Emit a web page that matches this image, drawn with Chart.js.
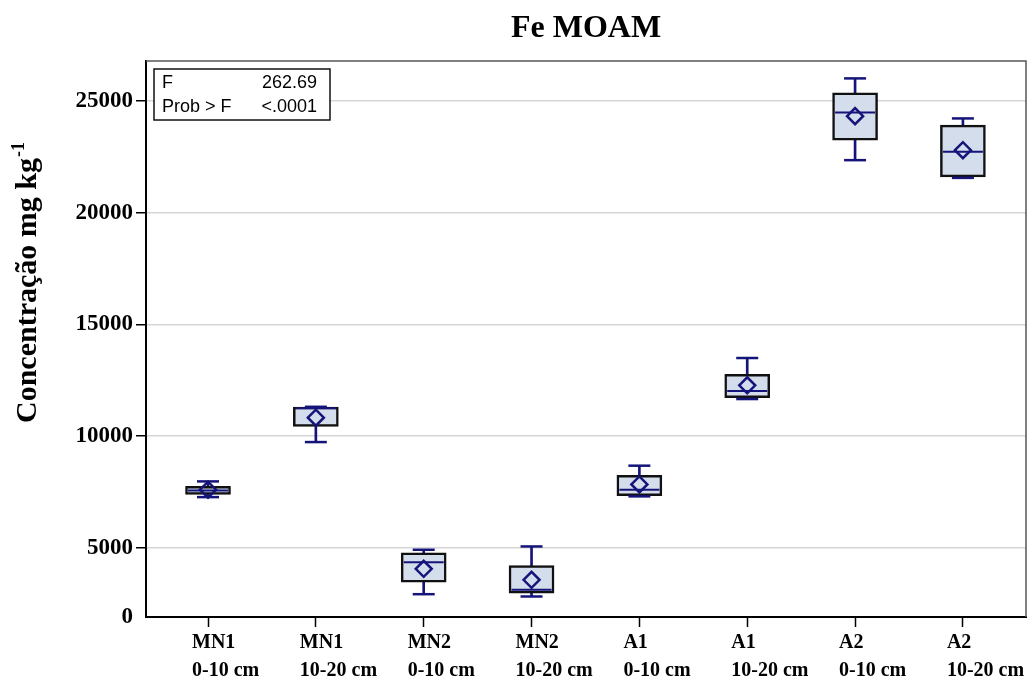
<!DOCTYPE html>
<html>
<head>
<meta charset="utf-8">
<script src="https://cdn.jsdelivr.net/npm/chart.js@4/dist/chart.umd.min.js"></script>
<style>
  html, body { margin: 0; padding: 0; background: #fff; overflow: hidden; }
  #wrap { width: 1033px; height: 684px; overflow: hidden; }
  canvas { display: block; }
</style>
</head>
<body>
<div id="wrap"><canvas id="c" width="1033" height="684"></canvas></div>
<script>
// ---- data ----
const titleText = 'Fe MOAM';
const yTitle = 'Concentração mg kg';
const yTitleSup = '-1';
const sites = ['MN1', 'MN1', 'MN2', 'MN2', 'A1', 'A1', 'A2', 'A2'];
const depths = ['0-10 cm', '10-20 cm', '0-10 cm', '10-20 cm', '0-10 cm', '10-20 cm', '0-10 cm', '10-20 cm'];
const whiskerMin = [7267, 9731, 2921, 2818, 7300, 11657, 22351, 21558];
const q1 =         [7388, 10434, 3459, 2966, 7330, 11720, 23247, 21603];
const median =     [7567, 11241, 4355, 3118, 7598, 12016, 24488, 22723];
const q3 =         [7746, 11299, 4776, 4207, 8239, 12764, 25366, 23919];
const whiskerMax = [7970, 11310, 4910, 5058, 8674, 13494, 26011, 24219];
const means =      [7598, 10824, 4059, 3566, 7836, 12271, 24322, 22799];
const yTickValues = [5000, 10000, 15000, 20000, 25000];
const yMin = 1900, yMax = 26790;
const statsRows = [['F', '262.69'], ['Prob > F', '<.0001']];

const navy = '#14147a';
const boxFill = '#d4ddeb';
const pos = sites.map((_, i) => i + 1);

const serif = '"Liberation Serif", "Times New Roman", serif';
const sans = '"Liberation Sans", Arial, sans-serif';

const decorPlugin = {
  id: 'decor',
  afterDraw(chart) {
    const ctx = chart.ctx;
    const ca = chart.chartArea;
    const xs = chart.scales.x;
    ctx.save();
    ctx.strokeStyle = '#555';
    ctx.lineWidth = 1.5;
    ctx.beginPath();
    ctx.moveTo(ca.left, ca.top);
    ctx.lineTo(ca.right, ca.top);
    ctx.lineTo(ca.right, ca.bottom);
    ctx.stroke();

    ctx.fillStyle = '#000';
    ctx.font = 'bold 32px ' + serif;
    ctx.textAlign = 'center';
    ctx.textBaseline = 'alphabetic';
    ctx.fillText(titleText, (ca.left + ca.right) / 2, 37);

    ctx.save();
    ctx.translate(36, 283);
    ctx.rotate(-Math.PI / 2);
    ctx.font = 'bold 30px ' + serif;
    const w1 = ctx.measureText(yTitle).width;
    ctx.font = 'bold 18px ' + serif;
    const w2 = ctx.measureText(yTitleSup).width;
    const start = -(w1 + w2) / 2;
    ctx.textAlign = 'left';
    ctx.font = 'bold 30px ' + serif;
    ctx.fillText(yTitle, start, 0);
    ctx.font = 'bold 18px ' + serif;
    ctx.fillText(yTitleSup, start + w1 + 1, -12);
    ctx.restore();

    ctx.font = 'bold 20px ' + serif;
    ctx.textAlign = 'left';
    pos.forEach((p, i) => {
      const x = xs.getPixelForValue(p) - 16;
      ctx.fillText(sites[i], x, 648);
      ctx.fillText(depths[i], x, 676);
    });

    const bx = ca.left + 8, by = ca.top + 8, bw = 176, bh = 51;
    ctx.fillStyle = '#fff';
    ctx.fillRect(bx, by, bw, bh);
    ctx.strokeStyle = '#111';
    ctx.lineWidth = 1.5;
    ctx.strokeRect(bx, by, bw, bh);
    ctx.fillStyle = '#000';
    ctx.font = '18px ' + sans;
    statsRows.forEach((r, i) => {
      const yb = by + 19 + i * 24;
      ctx.textAlign = 'left';
      ctx.fillText(r[0], bx + 8, yb);
      ctx.textAlign = 'right';
      ctx.fillText(r[1], bx + bw - 13, yb);
    });
    ctx.restore();
  }
};

new Chart(document.getElementById('c'), {
  type: 'bar',
  data: {
    datasets: [
      {
        label: 'whisker',
        data: pos.map((p, i) => ({ x: p, y: [whiskerMin[i], whiskerMax[i]] })),
        backgroundColor: navy,
        borderWidth: 0,
        barThickness: 2,
        grouped: false,
        order: 5
      },
      {
        label: 'box',
        data: pos.map((p, i) => ({ x: p, y: [q1[i], q3[i]] })),
        backgroundColor: boxFill,
        borderColor: '#111',
        borderWidth: 2.5,
        borderSkipped: false,
        barThickness: 45,
        grouped: false,
        order: 4
      },
      {
        type: 'scatter',
        label: 'caps',
        data: pos.flatMap((p, i) => [{ x: p, y: whiskerMin[i] }, { x: p, y: whiskerMax[i] }]),
        pointStyle: 'line',
        pointRadius: 11,
        borderColor: navy,
        borderWidth: 2.5,
        order: 3
      },
      {
        type: 'scatter',
        label: 'median',
        data: pos.map((p, i) => ({ x: p, y: median[i] })),
        pointStyle: 'line',
        pointRadius: 20,
        borderColor: navy,
        borderWidth: 2,
        order: 2
      },
      {
        type: 'scatter',
        label: 'mean',
        data: pos.map((p, i) => ({ x: p, y: means[i] })),
        pointStyle: 'rectRot',
        pointRadius: 8,
        backgroundColor: 'rgba(0,0,0,0)',
        borderColor: navy,
        borderWidth: 2.5,
        order: 1
      }
    ]
  },
  options: {
    responsive: false,
    animation: false,
    events: [],
    layout: { autoPadding: false, padding: { top: 61, right: 7, left: 0, bottom: 0 } },
    plugins: { legend: { display: false }, tooltip: { enabled: false }, title: { display: false } },
    scales: {
      x: {
        type: 'linear',
        min: 0.425,
        max: 8.585,
        offset: false,
        grid: {
          offset: false,
          drawOnChartArea: false,
          drawTicks: true,
          tickLength: 10,
          tickColor: '#000',
          tickWidth: 1.5
        },
        border: { color: '#000', width: 2 },
        ticks: { display: false },
        afterBuildTicks(scale) { scale.ticks = pos.map(v => ({ value: v })); },
        afterFit(scale) { scale.height = 67; scale.paddingLeft = 0; scale.paddingRight = 0; }
      },
      y: {
        type: 'linear',
        min: yMin,
        max: yMax,
        beginAtZero: false,
        grid: {
          color: (c) => (c.tick && c.tick.value === yMin) ? 'rgba(0,0,0,0)' : '#d6d6d6',
          lineWidth: 1.5,
          drawTicks: true,
          tickLength: 10,
          tickColor: (c) => (c.tick && c.tick.value === yMin) ? 'rgba(0,0,0,0)' : '#000',
          tickWidth: 1.5
        },
        border: { color: '#000', width: 2 },
        ticks: {
          color: '#000',
          padding: 3,
          font: { family: serif, size: 23, weight: 'bold' },
          callback: (v) => v === yMin ? '0' : String(v)
        },
        afterBuildTicks(scale) {
          scale.ticks = [{ value: yMin }].concat(yTickValues.map(v => ({ value: v })));
        },
        afterFit(scale) { scale.width = 146; scale.paddingTop = 0; scale.paddingBottom = 0; scale.paddingLeft = 0; scale.paddingRight = 0; }
      }
    }
  },
  plugins: [decorPlugin]
});
</script>
</body>
</html>
